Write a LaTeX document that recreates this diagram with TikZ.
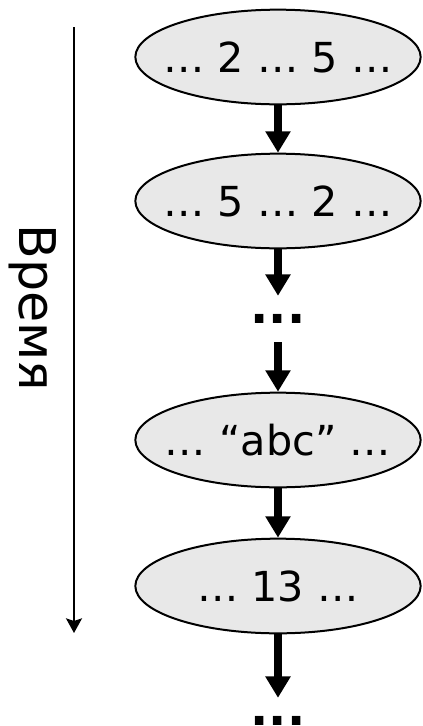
\documentclass[tikz,border=0pt]{standalone}
\usepackage{fontspec}
\setmainfont{DejaVu Sans}
\usetikzlibrary{arrows.meta, shapes.geometric}
\definecolor{stategray}{RGB}{232, 232, 232}

\begin{document}
\begin{tikzpicture}[
  x=0.75pt, y=-0.75pt,
  every node/.style={font=\fontsize{31}{37}\selectfont},
  state/.style={ellipse, draw=black, line width=1.5pt, fill=stategray, minimum width=214pt, minimum height=71pt, inner xsep=-12pt, inner ysep=0pt},
  gap/.style={font=\fontsize{36}{42}\selectfont\bfseries, inner sep=0pt, outer ysep=14pt},
  arrow/.style={-{Triangle[length=16pt, width=18pt]}, line width=5.5pt},
  timeline/.style={-{Stealth[length=11pt, width=12pt, inset=2pt]}, line width=1.5pt}
]
  \useasboundingbox (0,0) rectangle (423,726);

  % Ось времени
  \coordinate (t0) at (74,27);
  \coordinate (t1) at (74,633);
  \draw[timeline] (t0) -- (t1);
  \node[rotate=-90, font=\fontsize{38}{44}\selectfont] (time) at (33,308) {Время};

  % Состояния памяти
  \node[state] (s1) at (278,57) {… 2 … 5 …};
  \node[state] (s2) at (278,201) {… 5 … 2 …};
  \node[gap] (g1) at (278,319) {...};
  \node[state] (s3) at (278,440) {… “abc” …};
  \node[state] (s4) at (278,586) {… 13 …};
  \node[gap] (g2) at (278,721) {...};

  \draw[arrow] (s1) -- (s2);
  \draw[arrow] (s2) -- (g1);
  \draw[arrow] (g1) -- (s3);
  \draw[arrow] (s3) -- (s4);
  \draw[arrow] (s4) -- (g2);

\end{tikzpicture}
\end{document}
